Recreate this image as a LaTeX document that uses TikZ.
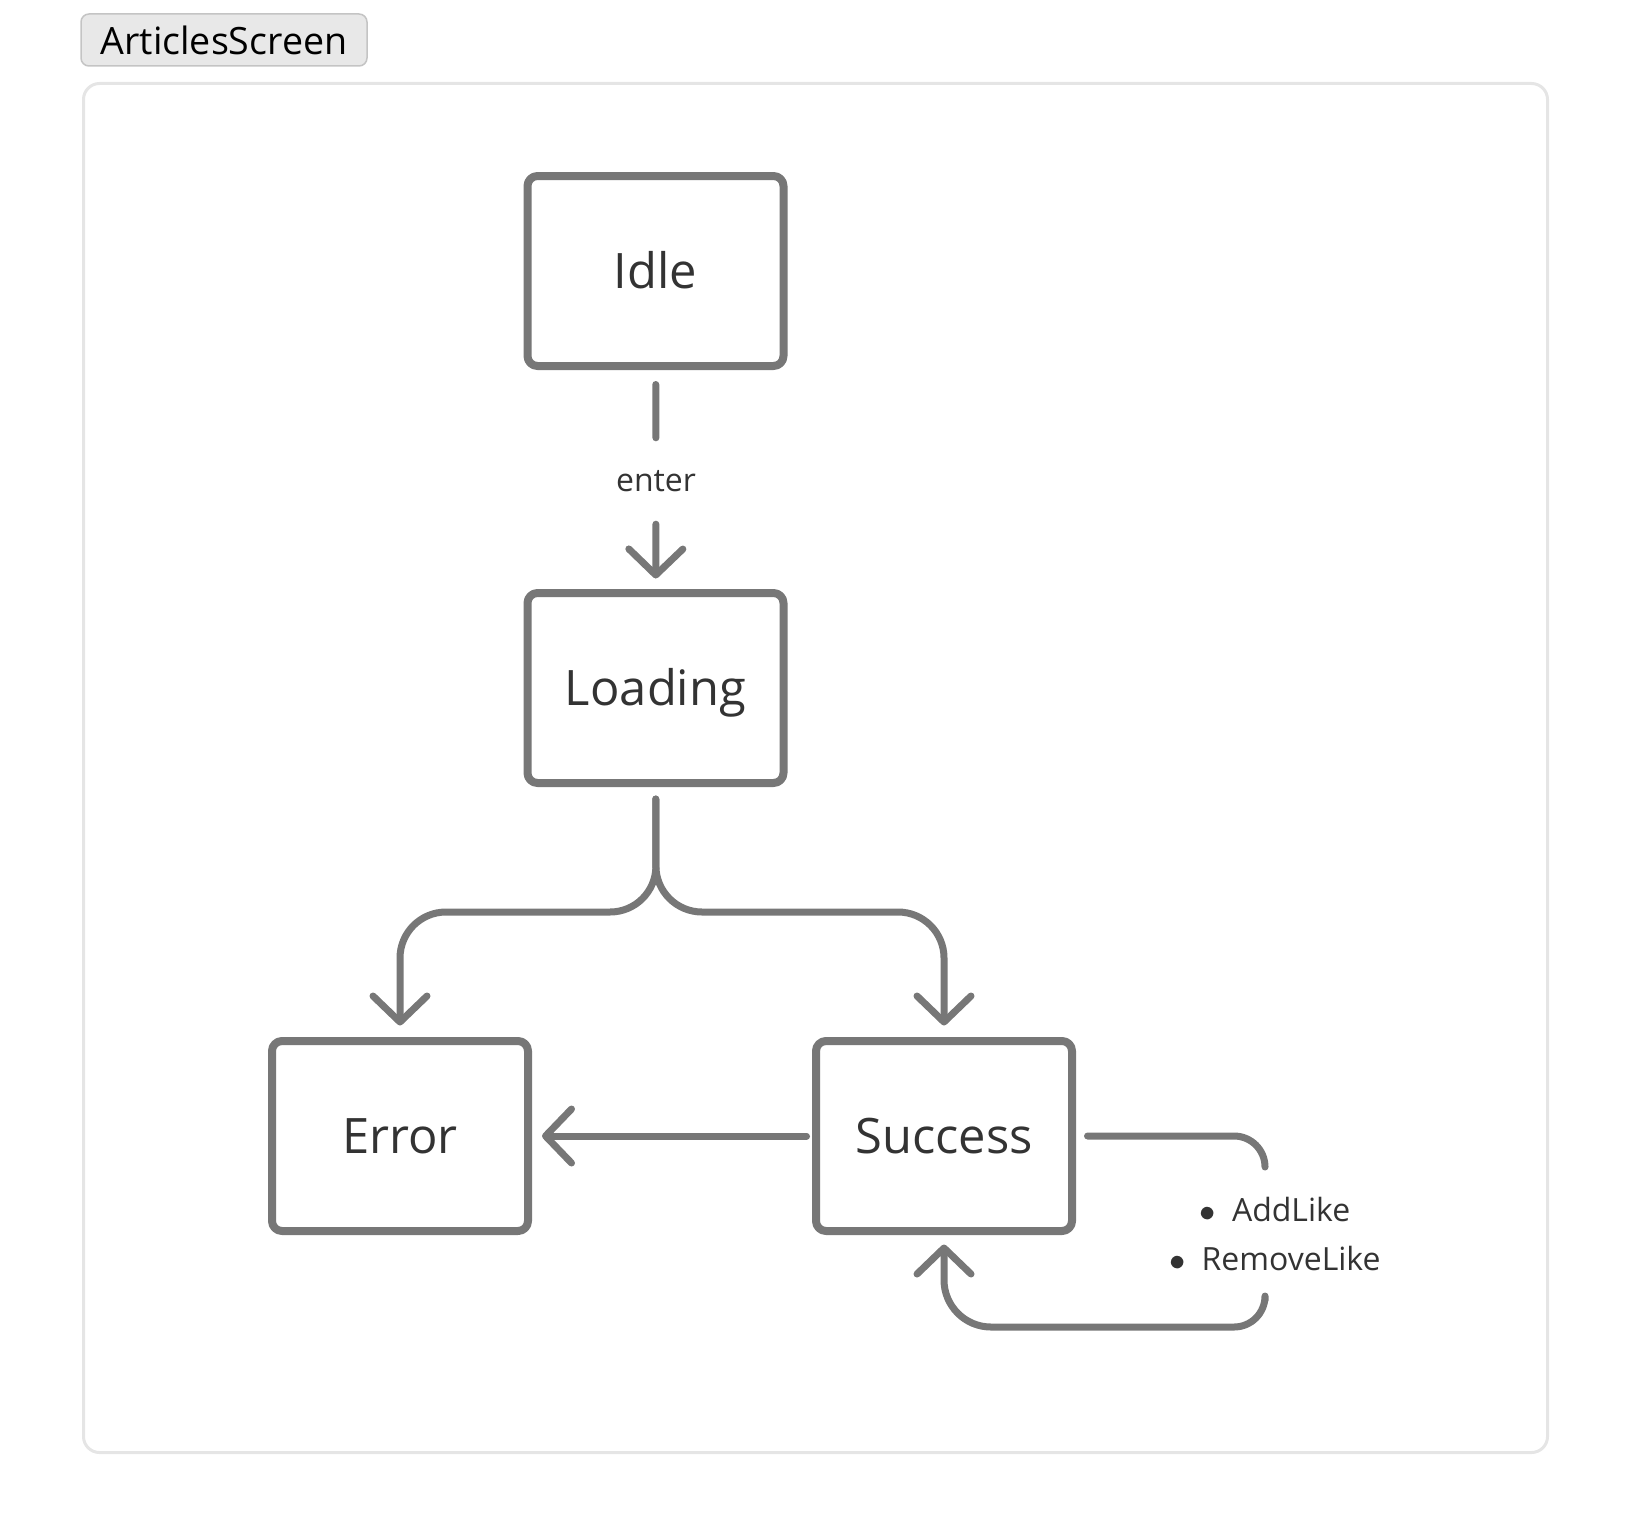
\documentclass[tikz,border=0pt]{standalone}
\usepackage{fontspec}
\setmainfont{Open Sans}
\usepackage{xcolor}
\usetikzlibrary{arrows.meta}
\definecolor{linegray}{HTML}{777777}
\definecolor{textgray}{HTML}{333333}
\definecolor{framegray}{HTML}{E5E5E5}
\definecolor{tabfill}{HTML}{E8E8E8}
\definecolor{tabline}{HTML}{C4C4C4}

\begin{document}
\begin{tikzpicture}[-,line cap=round,line join=round,
  state node/.style={draw=linegray,line width=0.08cm,rounded corners=0.1cm,fill=white,minimum width=2.56cm,minimum height=1.90cm,inner sep=0pt,text height=0.35cm,text depth=0pt,text=textgray,font=\fontsize{13.9}{16}\selectfont},
  flow/.style={draw=linegray,line width=0.07cm},
  small label/.style={text=textgray,inner sep=0pt,font=\fontsize{9.1}{13.7}\selectfont}]
\tikzstyle{arrowed} = [-{Straight Barb[length=0.26cm,width=0.54cm,round]}]
\tikzstyle{tab} = [draw=tabline,fill=tabfill,line width=0.015cm,rounded corners=0.08cm,minimum width=2.86cm,minimum height=0.52cm,inner sep=0pt,font=\fontsize{10.7}{12}\selectfont]
\useasboundingbox (0,0) rectangle (16.32,-15.36);

% Screen frame
\node[tab] (title) at (2.24,-0.40) {ArticlesScreen};
\draw[draw=framegray,line width=0.03cm,rounded corners=0.16cm] (0.835,-0.835) rectangle (15.475,-14.525);

% States
\node[state node] (Idle) at (6.555,-2.71) {Idle};
\node[state node] (Loading) at (6.555,-6.88) {Loading};
\node[state node] (Error) at (4.00,-11.36) {Error};
\node[state node] (Success) at (9.44,-11.36) {Success};

% Labels
\node[small label,minimum height=0.78cm] (enterlbl) at (6.56,-4.81) {enter};
\node[small label,align=center] (likes) at (12.75,-12.34) {$\bullet$\hspace{0.5em}AddLike\\$\bullet$\hspace{0.5em}RemoveLike};

\coordinate (split) at (6.56,-9.12);
\coordinate (loopin) at (12.65,-11.665);
\coordinate (loopout) at (12.65,-13.005);

% Transitions
\draw[flow,shorten <=0.145cm,shorten >=0.035cm] (Idle) -- (enterlbl);
\draw[flow,arrowed,shorten <=0.035cm,shorten >=0.105cm] (enterlbl) -- (Loading);
\draw[flow,arrowed,rounded corners=0.46cm,shorten <=0.12cm,shorten >=0.115cm] (Loading) -- (split) -| (Error);
\draw[flow,arrowed,rounded corners=0.46cm,shorten <=0.12cm,shorten >=0.115cm] (Loading) -- (split) -| (Success);
\draw[flow,arrowed,shorten <=0.055cm,shorten >=0.10cm] (Success) -- (Error);
\draw[flow,rounded corners=0.31cm,shorten <=0.115cm] (Success) -| (loopin);
\draw[flow,arrowed,shorten >=0.095cm] (loopout) [rounded corners=0.31cm] -- (12.65,-13.27) [rounded corners=0.47cm] -| (Success);

\end{tikzpicture}
\end{document}
